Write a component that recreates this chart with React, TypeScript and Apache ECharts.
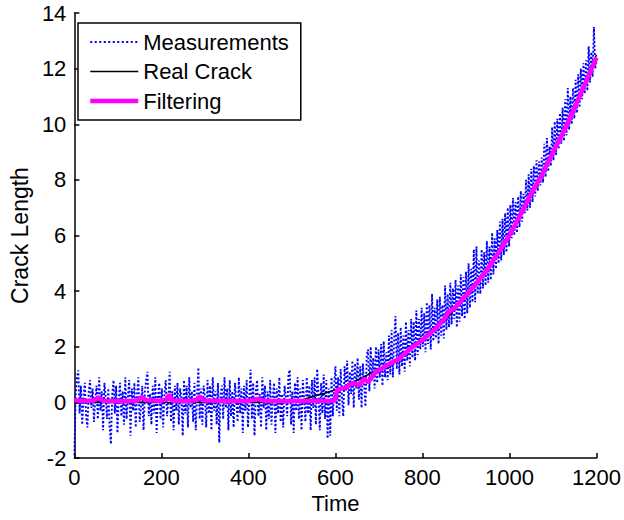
import React, { useEffect, useRef } from "react";
import * as echarts from "echarts";

// Axis ticks
const xTicks = [0, 200, 400, 600, 800, 1000, 1200];
const yTicks = [-2, 0, 2, 4, 6, 8, 10, 12, 14];

// Measurements: one value every 3 time units, from t=0 to t=1200
const measStep = 3;
const measurements = [
  -1.9, 0.3, 0.9, 1.15, -0.4, 0.6, -0.8, 0.2, 0.7, -0.5, -0.9, 0.4, 0.8, -0.2, 0.5, -0.7, 0.1, 0.6, -0.6, 0.9,
  -0.3, 0.4, -1.0, 0.7, 0.2, -0.6, 0.5, -0.9, -1.5, 0.3, 0.8, -0.4, 0.6, -1.1, 0.1, 0.7, -0.5, 0.4, -0.8, 0.9,
  -0.6, 0.2, 0.8, -1.2, 0.5, -0.3, 0.7, -0.9, 0.3, 0.9, -0.7, -0.2, 0.6, -1.0, 0.4, 0.8, 1.1, -0.5, 0.3, -0.8,
  0.6, -0.4, 0.9, -1.1, 0.2, 0.7, -0.6, 0.5, -0.9, 0.3, 0.8, -0.5, 0.1, 1.1, -0.7, 0.4, -1.0, 0.6, -0.3, 0.7,
  -0.8, 0.5, 0.2, -1.2, 0.8, -0.4, 0.6, -0.9, 0.9, -0.2, 0.4, -0.7, 0.7, -1.0, 0.3, 1.25, -0.6, 0.5, -0.8, 0.6,
  0.2, -0.9, 0.8, -0.4, 0.6, -1.0, 0.9, -0.3, 0.4, -0.8, 0.7, -1.45, 0.3, 0.6, -0.6, 0.9, -0.2, 0.5, -1.0, 0.8,
  -0.5, 0.4, -0.9, 0.7, 0.1, -0.7, 0.9, -0.4, 0.5, -1.1, 0.6, -0.3, 0.8, -0.9, 0.2, 1.17, -0.6, 0.7, -1.2, 0.4,
  0.8, -0.5, 0.3, -0.9, 0.9, -0.2, 0.6, -1.0, 0.4, -0.6, 0.8, -0.8, 0.2, 0.7, -1.1, 0.5, -0.4, 0.9, -0.7, 0.3,
  -0.9, 0.6, 0.2, -0.5, 1.0, 1.17, -0.8, 0.4, -1.1, 0.7, -0.3, 0.9, -0.6, 0.5, -1.0, 0.8, 0.1, -0.7, 0.9, -0.4,
  0.6, -1.0, 0.8, -0.2, 0.9, -0.8, 1.2, 0.3, -1.0, 0.7, -0.4, 1.0, -0.6, 0.8, -1.3, 0.5, -1.2, 0.9, -0.5, 0.6,
  1.3, -0.3, 0.9, -0.5, 1.2, 0.2, -0.5, 1.3, 0.4, 1.5, -0.1, 1.1, 0.3, 1.5, -0.2, 1.4, 0.5, 1.6, 0.1, 1.3,
  -0.2, 1.4, 0.6, -0.15, 1.7, 1.9, 0.4, 2.0, 0.8, 1.6, 0.5, 2.0, 0.7, 1.9, 0.9, 2.1, 0.6, 2.2, 0.9, 1.8,
  0.8, 2.4, 1.0, 2.6, 0.9, 2.3, 3.1, 1.2, 2.5, 1.0, 2.7, 1.3, 2.4, 1.1, 2.9, 1.5, 2.6, 1.3, 3.0, 1.6,
  2.9, 1.5, 3.3, 1.7, 3.0, 1.9, 3.4, 2.0, 3.2, 1.8, 3.6, 2.1, 3.5, 1.9, 3.9, 2.2, 3.4, 2.3, 3.7, 2.1,
  3.8, 2.4, 3.5, 2.3, 4.2, 2.6, 3.9, 2.7, 4.3, 2.8, 4.1, 3.0, 4.4, 2.7, 4.2, 2.9, 4.6, 3.1, 4.5, 3.0,
  4.7, 3.2, 5.0, 3.4, 4.8, 3.6, 5.5, 3.6, 5.6, 3.9, 5.1, 3.9, 5.5, 4.1, 5.4, 4.2, 5.8, 4.3, 5.6, 4.4,
  6.1, 4.6, 5.9, 4.8, 6.2, 5.0, 6.5, 5.1, 6.6, 5.3, 6.8, 5.4, 7.0, 5.6, 7.1, 5.9, 7.35, 6.0, 7.2, 6.1,
  7.4, 6.3, 7.6, 6.5, 7.5, 6.8, 8.0, 6.9, 8.2, 7.0, 8.4, 7.2, 8.5, 7.4, 8.7, 7.6, 8.66, 7.8, 8.8, 7.9,
  9.3, 8.1, 9.5, 8.3, 9.2, 8.5, 9.9, 8.7, 10.1, 8.9, 10.2, 9.1, 10.4, 9.3, 10.6, 9.4, 10.9, 9.6, 11.3, 9.8,
  11.0, 10.0, 11.3, 10.2, 11.6, 10.4, 11.8, 10.6, 12.0, 10.9, 12.2, 11.1, 12.3, 11.2, 12.8, 11.5, 12.6, 11.7, 13.5, 12.0,
  12.3,
];

// Real crack
const realTimes = [0, 480, 500, 525, 550, 575, 600, 625, 650, 675, 700, 725, 750, 775, 800, 825, 850, 875, 900, 925, 950, 975, 1000, 1025, 1050, 1075, 1100, 1125, 1150, 1175, 1200];
const realValues = [0, 0, 0.02, 0.1, 0.22, 0.33, 0.45, 0.6, 0.8, 1.0, 1.2, 1.42, 1.65, 1.93, 2.25, 2.6, 2.95, 3.35, 3.8, 4.25, 4.75, 5.35, 6.0, 6.7, 7.45, 8.2, 9.0, 9.75, 10.55, 11.5, 12.5];

// Filtering
const filterTimes = [0, 20, 45, 55, 65, 100, 145, 155, 165, 200, 212, 218, 225, 260, 280, 288, 296, 350, 400, 420, 440, 500, 550, 598, 604, 625, 640, 655, 665, 675, 690, 720, 745, 770, 800, 830, 850, 860, 875, 900, 925, 950, 975, 1000, 1025, 1050, 1075, 1100, 1125, 1150, 1175, 1200];
const filterValues = [0.08, 0.05, 0.07, 0.18, 0.06, 0.04, 0.06, 0.2, 0.08, 0.06, 0.1, 0.28, 0.06, 0.05, 0.08, 0.22, 0.07, 0.05, 0.05, 0.12, 0.05, 0.05, 0.05, 0.06, 0.45, 0.55, 0.7, 0.62, 0.85, 0.72, 1.05, 1.35, 1.55, 1.9, 2.25, 2.65, 3.0, 3.25, 3.4, 3.85, 4.3, 4.8, 5.4, 6.0, 6.75, 7.5, 8.2, 9.0, 9.75, 10.6, 11.5, 12.4];

const FONT = "'Liberation Sans', Arial, Helvetica, sans-serif";

export default function App() {
  const ref = useRef<HTMLDivElement>(null);
  useEffect(() => {
    if (!ref.current) return;
    const chart = echarts.init(ref.current, undefined, { renderer: "svg" });
    const measData = measurements.map((v, i) => [i * measStep, v]);
    const realData = realTimes.map((t, i) => [t, realValues[i]]);
    const filterData = filterTimes.map((t, i) => [t, filterValues[i]]);
    chart.setOption({
      animation: false,
      backgroundColor: "#ffffff",
      textStyle: { fontFamily: FONT, color: "#000" },
      grid: { left: 73, right: 27, top: 13, bottom: 62 },
      legend: {
        data: [
          { name: "Measurements", lineStyle: { color: "#0000ff", width: 2.2, type: [2, 2.5] } },
          { name: "Real Crack", lineStyle: { color: "#000000", width: 1.5 } },
          { name: "Filtering", lineStyle: { color: "#ff00ff", width: 4.5 } },
        ],
        orient: "vertical",
        left: 78,
        top: 23,
        itemWidth: 48,
        itemHeight: 21,
        itemGap: 7.5,
        padding: [8, 12, 8, 10],
        borderColor: "#000",
        borderWidth: 1.5,
        backgroundColor: "#fff",
        borderRadius: 0,
        itemStyle: { opacity: 0 },
        textStyle: { fontFamily: FONT, fontSize: 22, color: "#000", padding: [0, 0, 0, 0] },
      },
      xAxis: {
        type: "value",
        min: xTicks[0],
        max: xTicks[xTicks.length - 1],
        interval: 200,
        name: "Time",
        nameLocation: "middle",
        nameGap: 33,
        nameTextStyle: { fontFamily: FONT, fontSize: 22, color: "#000" },
        axisLine: { show: true, onZero: false, lineStyle: { color: "#000", width: 1.5 } },
        axisTick: { show: true, inside: true, length: 5, lineStyle: { color: "#000", width: 1.5 } },
        axisLabel: { fontFamily: FONT, fontSize: 22, color: "#000", margin: 8, formatter: (v: number) => String(v) },
        splitLine: { show: false },
      },
      yAxis: {
        type: "value",
        min: yTicks[0],
        max: yTicks[yTicks.length - 1],
        interval: 2,
        name: "Crack Length",
        nameLocation: "middle",
        nameGap: 40,
        nameTextStyle: { fontFamily: FONT, fontSize: 23, color: "#000" },
        axisLine: { show: true, onZero: false, lineStyle: { color: "#000", width: 1.5 } },
        axisTick: { show: true, inside: true, length: 5, lineStyle: { color: "#000", width: 1.5 } },
        axisLabel: { fontFamily: FONT, fontSize: 22, color: "#000", margin: 8, formatter: (v: number) => String(v) },
        splitLine: { show: false },
      },
      series: [
        {
          name: "Measurements",
          type: "line",
          data: measData,
          symbol: "none",
          lineStyle: { color: "#0000ff", width: 1.9, type: [2, 2] },
          itemStyle: { color: "#0000ff" },
          z: 1,
        },
        {
          name: "Real Crack",
          type: "line",
          data: realData,
          symbol: "none",
          lineStyle: { color: "#000000", width: 1.5 },
          itemStyle: { color: "#000000" },
          z: 2,
        },
        {
          name: "Filtering",
          type: "line",
          data: filterData,
          symbol: "none",
          lineStyle: { color: "#ff00ff", width: 4.5 },
          itemStyle: { color: "#ff00ff" },
          z: 3,
        },
      ],
    });
    return () => chart.dispose();
  }, []);
  return (
    <div
      ref={ref}
      style={{ position: "fixed", left: 0, top: 0, width: 624, height: 520, background: "#fff" }}
    />
  );
}
